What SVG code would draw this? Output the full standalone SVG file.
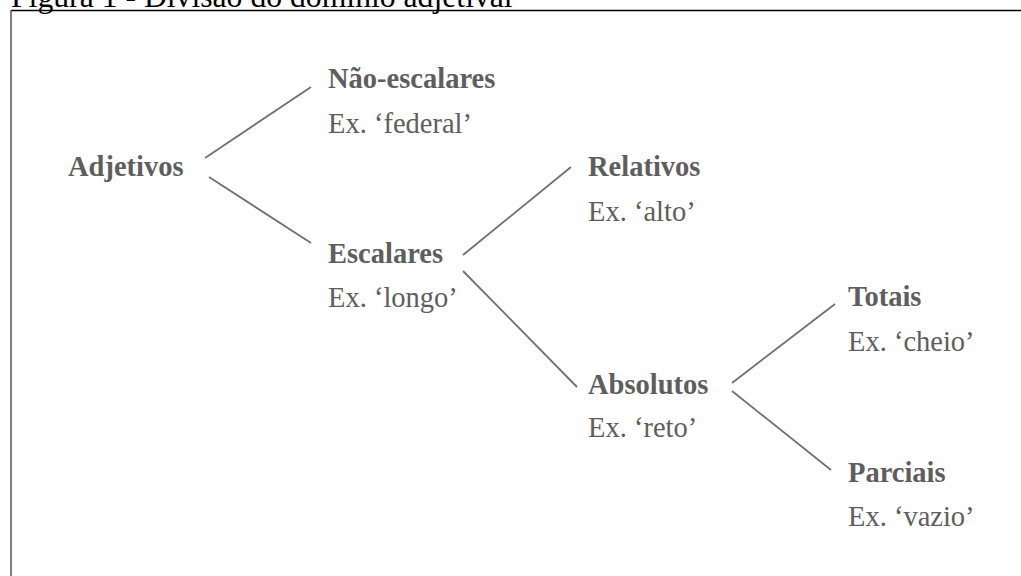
<svg xmlns="http://www.w3.org/2000/svg" width="1021" height="576" viewBox="0 0 1021 576">
<style>
.t{font-family:"Liberation Serif","Times New Roman",serif;font-size:28.5px;fill:#5e5e5e}
.b{font-weight:bold}
.title{font-family:"Liberation Serif","Times New Roman",serif;font-size:31.7px;fill:#000}
.c line{stroke:#707070;stroke-width:1.8}
</style>
<rect width="1021" height="576" fill="#fff"/>
<text class="title" x="11" y="7">Figura 1 - Divisão do domínio adjetival</text>
<line x1="11" y1="10.5" x2="1021" y2="10.5" stroke="#000" stroke-width="1.5"/>
<line x1="11" y1="10" x2="11" y2="576" stroke="#555" stroke-width="1.5"/>
<g class="c" id="connectors">
<line x1="205" y1="158" x2="311" y2="87"/>
<line x1="209" y1="177" x2="311" y2="243"/>
<line x1="463" y1="255" x2="571" y2="167"/>
<line x1="463" y1="271" x2="577" y2="387"/>
<line x1="732" y1="383" x2="835" y2="304"/>
<line x1="732" y1="391" x2="831" y2="470"/>
</g>
<g id="adjetivos"><text class="t b" x="68" y="176">Adjetivos</text></g>
<g id="nao-escalares"><text class="t b" x="328" y="88">Não-escalares</text><text class="t" x="328" y="133">Ex. ‘federal’</text></g>
<g id="escalares"><text class="t b" x="328" y="263">Escalares</text><text class="t" x="328" y="307">Ex. ‘longo’</text></g>
<g id="relativos"><text class="t b" x="588" y="176">Relativos</text><text class="t" x="588" y="221">Ex. ‘alto’</text></g>
<g id="absolutos"><text class="t b" x="588" y="394">Absolutos</text><text class="t" x="588" y="437">Ex. ‘reto’</text></g>
<g id="totais"><text class="t b" x="848" y="306">Totais</text><text class="t" x="848" y="351">Ex. ‘cheio’</text></g>
<g id="parciais"><text class="t b" x="848" y="482">Parciais</text><text class="t" x="848" y="526">Ex. ‘vazio’</text></g>
</svg>
